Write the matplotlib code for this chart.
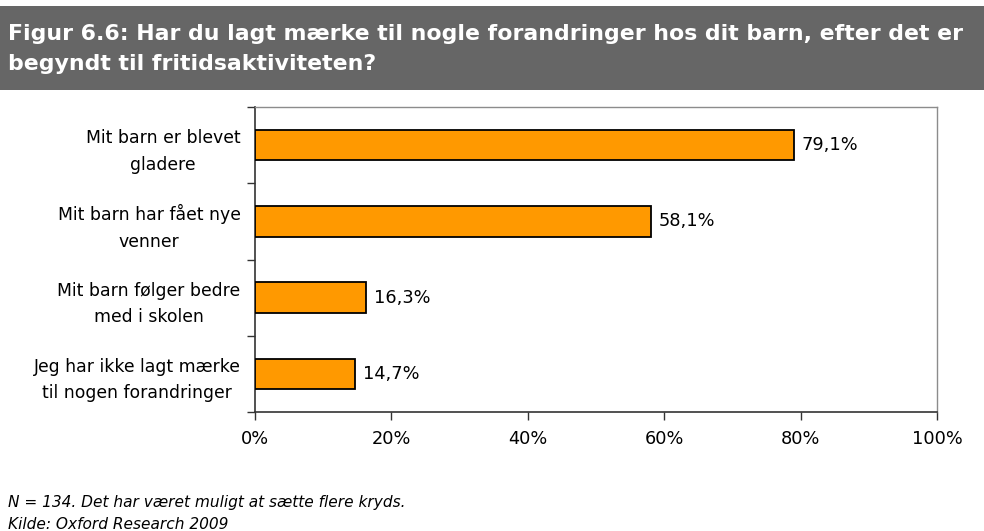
import matplotlib
matplotlib.use("Agg")
import matplotlib.pyplot as plt
from matplotlib.patches import Rectangle

categories = ["Mit barn er blevet\ngladere",
              "Mit barn har fået nye\nvenner",
              "Mit barn følger bedre\nmed i skolen",
              "Jeg har ikke lagt mærke\ntil nogen forandringer"]
values = [79.1, 58.1, 16.3, 14.7]
value_labels = ["79,1%", "58,1%", "16,3%", "14,7%"]
xticks = [0, 20, 40, 60, 80, 100]
xtick_labels = ["0%", "20%", "40%", "60%", "80%", "100%"]
title_lines = ["Figur 6.6: Har du lagt mærke til nogle forandringer hos dit barn, efter det er",
               "begyndt til fritidsaktiviteten?"]
notes = ["N = 134. Det har været muligt at sætte flere kryds.",
         "Kilde: Oxford Research 2009"]

W, H = 984, 531
fig = plt.figure(figsize=(W / 100, H / 100), dpi=100)
plt.rcParams['font.family'] = ['DejaVu Sans']

# header band
fig.patches.append(Rectangle((0, 1 - 90 / H), 1, (90 - 6) / H, transform=fig.transFigure,
                             facecolor="#666666", edgecolor="none", zorder=0))
fig.text(8 / W, 1 - 40 / H, title_lines[0], color="white", fontsize=15.8, fontweight="bold",
         ha="left", va="baseline")
fig.text(8 / W, 1 - 70 / H, title_lines[1], color="white", fontsize=15.8, fontweight="bold",
         ha="left", va="baseline")

left, right, top, bottom = 255, 937, 107, 412
ax = fig.add_axes([left / W, 1 - bottom / H, (right - left) / W, (bottom - top) / H])

n = len(categories)
ypos = list(range(n))
ax.barh(ypos, values, height=0.4, color="#FF9900", edgecolor="black", linewidth=1.3, zorder=3)
for y, v, lab in zip(ypos, values, value_labels):
    ax.text(v + 1.1, y, lab, va="center", ha="left", fontsize=12.8, color="black")

ax.set_xlim(0, 100)
ax.set_ylim(n - 0.5, -0.5)
ax.set_xticks(xticks)
ax.set_xticklabels(xtick_labels, fontsize=12.8)
ax.set_yticks(ypos)
ax.set_yticklabels(categories, fontsize=12.4, multialignment="center", linespacing=1.6)
ax.set_yticks([i + 0.5 for i in range(-1, n)], minor=True)
ax.tick_params(axis="y", which="major", length=0, pad=10.5)
ax.tick_params(axis="y", which="minor", length=6, width=1, color="#333333", direction="out")
ax.tick_params(axis="x", which="major", length=6, width=1, color="#333333", direction="out", pad=7)

for s in ["left", "bottom"]:
    ax.spines[s].set_color("#333333")
    ax.spines[s].set_linewidth(1.2)
for s in ["top", "right"]:
    ax.spines[s].set_color("#8c8c8c")
    ax.spines[s].set_linewidth(1.0)

fig.text(8 / W, 1 - 507 / H, notes[0], fontsize=11.1, style="italic", ha="left", va="baseline")
fig.text(8 / W, 1 - 529 / H, notes[1], fontsize=11.1, style="italic", ha="left", va="baseline")

fig.savefig("out.png", dpi=100)
